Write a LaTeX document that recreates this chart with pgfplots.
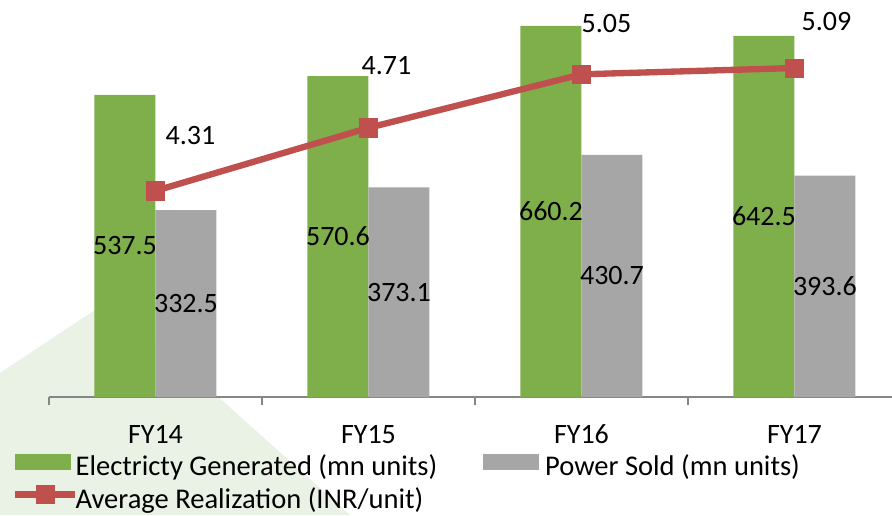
\documentclass[border=0pt]{standalone}
\usepackage{fontspec}
\setmainfont{Carlito}
\usepackage{pgfplots}
\usepackage{pgfplotstable}
\pgfplotsset{compat=1.18}

\definecolor{gen}{HTML}{7FAF4B}
\definecolor{sold}{HTML}{A6A6A6}
\definecolor{real}{HTML}{C0504D}
\definecolor{axisgrey}{HTML}{868686}
\definecolor{wm}{RGB}{234,241,229}

\pgfplotsset{
  barswatch/.style={legend image code/.code={\fill[##1] (0pt,-0.75pt) rectangle (42pt,11.25pt);}},
  realswatch/.style={legend image code/.code={\draw[##1, sharp plot, yshift=5.25pt, mark repeat=2, mark phase=2]
    plot coordinates {(0pt,0pt) (22.5pt,0pt) (45pt,0pt)};}},
}

% bars: mn units
\pgfplotstableread{
x gen sold
0 537.5 332.5
1 570.6 373.1
2 660.2 430.7
3 642.5 393.6
}\bars

% line: INR/unit, with label offsets (pt)
\pgfplotstableread{
x val dx dy
0 4.31 26.25 41.25
1 4.71 13.5 46.5
2 5.05 18.75 37.9
3 5.09 24 35.25
}\realization

\newcommand{\lbl}{\fontsize{21}{25}\selectfont}
\newcommand{\leg}{\fontsize{21.4}{25}\selectfont}

\begin{document}
\begin{tikzpicture}
\useasboundingbox (0,0) rectangle (669pt,386.25pt);
% faint watermark in the corner
\fill[wm] (0pt,106.5pt) -- (82.5pt,161.25pt) -- (262.5pt,0pt) -- (0pt,0pt) -- cycle;

\begin{axis}[
  at={(36.75pt,88.5pt)}, anchor=south west,
  scale only axis, width=632.25pt, height=295.125pt,
  xmin=-0.5, xmax=3.458, ymin=0, ymax=700,
  axis x line*=bottom, axis y line=none,
  axis line style={axisgrey, line width=1.1pt},
  xtick={0,1,2,3}, xticklabels={FY14,FY15,FY16,FY17},
  minor xtick={-0.5,0.5,1.5,2.5},
  major tick length=0pt, minor tick length=6pt, tick align=outside,
  tick style={axisgrey, line width=1.1pt},
  xticklabel style={font=\lbl, anchor=base, yshift=-34.5pt},
  ytick=\empty,
  ybar=0pt, bar width=0.2864,
  nodes near coords,
  /pgf/number format/assume math mode=true,
  visualization depends on=y \as \rawy,
  every node near coord/.append style={font=\lbl, text=black, anchor=center,
    shift={(axis direction cs:0,-\rawy/2)}},
  barswatch,
  legend columns=2,
  legend cell align=left,
  legend style={at={(-0.0439,-0.1450)}, anchor=north west, draw=none, fill=none,
    inner sep=0pt, font=\leg, row sep=2pt,
    nodes={inner sep=0pt, text height=15pt, text depth=5pt},
    /tikz/column 1/.style={column sep=-2.25pt},
    /tikz/column 2/.style={column sep=34.5pt},
    /tikz/column 3/.style={column sep=4.5pt}},
]
\addplot[fill=gen, draw=none] table[x=x, y=gen] {\bars};
\addlegendentry{Electricty Generated (mn units)}
\addplot[fill=sold, draw=none] table[x=x, y=sold] {\bars};
\addlegendentry{Power Sold (mn units)}
\addlegendimage{real, line width=4.75pt, mark=square*, mark size=6.9pt,
  mark options={line width=0.4pt, fill=real, draw=real}, realswatch}
\addlegendentry{Average Realization (INR/unit)}
\end{axis}

\begin{axis}[
  at={(36.75pt,88.5pt)}, anchor=south west,
  scale only axis, width=632.25pt, height=295.125pt,
  xmin=-0.5, xmax=3.458, ymin=3, ymax=5.5,
  hide axis, clip=false,
  /pgf/number format/assume math mode=true,
]
\addplot[real, line width=4.75pt, mark=square*, mark size=6.9pt,
  mark options={line width=0.4pt, fill=real, draw=real},
  nodes near coords,
  visualization depends on={\thisrow{dx} \as \dx},
  visualization depends on={\thisrow{dy} \as \dy},
  every node near coord/.append style={font=\lbl, text=black, anchor=center,
    xshift=\dx pt, yshift=\dy pt}]
  table[x=x, y=val] {\realization};
\end{axis}
\end{tikzpicture}
\end{document}
